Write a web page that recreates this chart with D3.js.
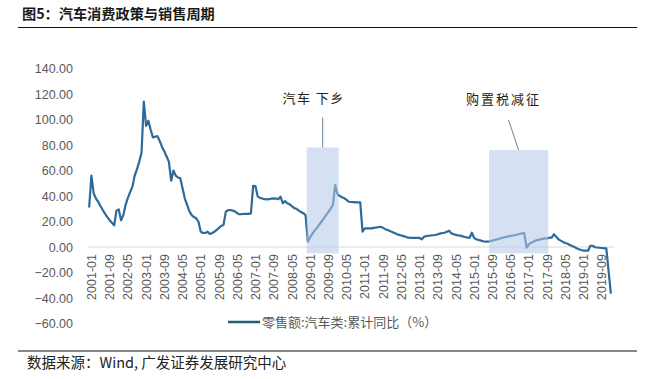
<!DOCTYPE html>
<html><head><meta charset="utf-8">
<script src="https://cdn.jsdelivr.net/npm/d3@7"></script>
<style>
html,body{margin:0;padding:0;background:#fff;}
svg{display:block;}
</style></head>
<body>
<svg id="chart" width="645" height="379"></svg>
<script>
// ---------- data ----------
const title = "图5：汽车消费政策与销售周期";
const seriesName = "零售额:汽车类:累计同比（%）";
const source = "数据来源：Wind, 广发证券发展研究中心";
const yTicks = [-60, -40, -20, 0, 20, 40, 60, 80, 100, 120, 140];
const tickLabels = ["2001-01","2001-09","2002-05","2003-01","2003-09","2004-05","2005-01","2005-09","2006-05","2007-01","2007-09","2008-05","2009-01","2009-09","2010-05","2011-01","2011-09","2012-05","2013-01","2013-09","2014-05","2015-01","2015-09","2016-05","2017-01","2017-09","2018-05","2019-01","2019-09"];
// monthly cumulative YoY values, 2001-01 .. 2019-12
const values2001 = [31,56,42,38,35.5,32,29,26,23.5,21,19,17];
const values2002 = [28.5,29.5,21,25,33,38.5,43,47.3,56,61,67,74];
const values2003 = [114,95,99,92,86,86.5,87,83,78.5,75,71,67];
const values2004 = [52,60,56,54.5,54,46,38,33,28,25,23.5,22.5];
const values2005 = [19.8,12,11,11,12,10.2,11,12,13.5,15,16.5,17.5];
const values2006 = [27.7,29,29,28.5,28,26.5,25.6,25.9,26,26,26,26.4];
const values2007 = [48,47.8,39.5,38.5,38,37.5,37.4,37.5,38,38.2,38,37.5];
const values2008 = [39.5,34.3,36,34.3,33.5,32,30.5,30,28.5,27.5,26.5,25];
const values2009 = [4.2,7.5,10.5,13,15,17.5,20,22.5,25,27.5,30,33];
const values2010 = [48.6,41.3,40,39,38.2,37,35.5,35.3,35.2,35,35,35];
const values2011 = [12,14.6,14.6,14.6,14.6,15,15.3,15.6,15.9,15,14,13.3];
const values2012 = [12.5,11.8,11,10.2,9.5,9,8.5,8,7.3,7.2,7.2,7.2];
const values2013 = [7.1,7.1,6,8,8.6,8.8,9,9.2,9.4,10,10.5,11];
const values2014 = [11.2,12,12.8,10.7,10,9.5,9,8.9,8.3,7.8,7.3,7.3];
const values2015 = [11.2,7,6,5.5,5,4.5,4.2,4.2,4.5,5,5.5,6];
const values2016 = [6.5,7,7.6,8,8.3,8.7,9,9.4,9.8,10.2,10.7,10.9];
const values2017 = [-0.5,2,3.4,4.2,5,5.6,6,6.4,6.8,6.8,7.3,7.3];
const values2018 = [10,8,6,5,4,3.2,2.5,1.6,0.8,0,-1,-1.8];
const values2019 = [-2.4,-2.9,-2.9,-2.9,1,1,-0.2,-0.4,-0.6,-0.8,-1,-1];
const values2020 = [{month:"2020-02", value:-36.5}];
// policy periods (shaded) and their labels
const policyNames = ["汽车下乡", "购置税减征"];
const policyStart = ["2009-01", "2015-09"];
const policyEnd = ["2010-02", "2017-10"];
const policyTop = [78, 76];
const policyBottom = [-5, -5];

// ---------- build ----------
const yearly = [values2001,values2002,values2003,values2004,values2005,values2006,values2007,values2008,values2009,values2010,values2011,values2012,values2013,values2014,values2015,values2016,values2017,values2018,values2019];
const data = [];
yearly.forEach((arr, i) => arr.forEach((v, j) => data.push({month: `${2001+i}-${String(j+1).padStart(2,"0")}`, value: v})));
values2020.forEach(d => data.push(d));
const months = [];
for (let y = 2001; y <= 2020; y++) for (let m = 1; m <= 12; m++) {
  if (y === 2020 && m > 2) break;
  months.push(`${y}-${String(m).padStart(2,"0")}`);
}

const svg = d3.select("#chart");
const left = 88, right = 612;
const x = d3.scalePoint().domain(months).range([left, right]).padding(0.5);
const y = d3.scaleLinear().domain([-60, 140]).range([323.5, 68.5]);

const grey = "#595959";
const latin = "'Liberation Sans', Arial, sans-serif";
const cjk = "'Noto Sans CJK SC', sans-serif";

// title
svg.append("text").attr("x", 22).attr("y", 19).text(title)
  .attr("font-family", cjk).attr("font-weight", "bold").attr("font-size", 14.2).attr("fill", "#1a1a1a");
svg.append("line").attr("x1", 18).attr("x2", 637).attr("y1", 27.5).attr("y2", 27.5)
  .attr("stroke", "#111").attr("stroke-width", 1.2);

// zero gridline
svg.append("line").attr("x1", left).attr("x2", right + 2).attr("y1", y(0)).attr("y2", y(0))
  .attr("stroke", "#d9d9d9").attr("stroke-width", 1);

// y axis labels
const yAxis = d3.axisLeft(y).tickValues(yTicks).tickSize(0).tickFormat(d3.format(".2f"));
const gy = svg.append("g").attr("transform", "translate(73,0)").call(yAxis);
gy.select(".domain").remove();
gy.selectAll("text").attr("x", 0).attr("fill", grey).attr("font-family", latin).attr("font-size", 12.5);

// x axis labels
const xAxis = d3.axisBottom(x).tickValues(tickLabels).tickSize(0);
const gx = svg.append("g").attr("transform", `translate(0,${y(0)})`).call(xAxis);
gx.select(".domain").remove();
gx.selectAll("text").attr("y", 0).attr("dy", "0.35em").attr("text-anchor", "end")
  .attr("transform", "translate(2,7) rotate(-90)")
  .attr("fill", grey).attr("font-family", latin).attr("font-size", 12.5);

// line
const line = d3.line().x(d => x(d.month)).y(d => y(d.value));
svg.append("path").datum(data).attr("d", line).attr("fill", "none")
  .attr("stroke", "#2d6a99").attr("stroke-width", 2.2).attr("stroke-linejoin", "round");

// policy bands (drawn over the line, translucent)
policyNames.forEach((name, i) => {
  const x0 = x(policyStart[i]) - x.step() / 2;
  const x1 = x(policyEnd[i]) + x.step() / 2;
  const yt = y(policyTop[i]);
  svg.append("rect").attr("x", x0).attr("y", yt).attr("width", x1 - x0).attr("height", y(policyBottom[i]) - yt)
    .attr("fill", "rgb(180,199,231)").attr("fill-opacity", 0.56);
  const cx = (x0 + x1) / 2;
  const tx = i === 0 ? cx - 9 : cx - 15;
  const ty = yt - (i === 0 ? 45 : 46);
  svg.append("line").attr("x1", i === 0 ? cx : cx - 10).attr("y1", yt - 30).attr("x2", cx).attr("y2", yt)
    .attr("stroke", "#6f8296").attr("stroke-width", 1);
  svg.append("text").attr("x", tx).attr("y", ty).attr("text-anchor", "middle")
    .attr("font-family", cjk).attr("font-size", 13).attr("fill", "#222")
    .attr("letter-spacing", i === 0 ? 1.5 : 2)
    .text(i === 0 ? "汽车 下乡" : name);
});

// legend
svg.append("line").attr("x1", 228).attr("x2", 260).attr("y1", 322).attr("y2", 322)
  .attr("stroke", "#1f5f78").attr("stroke-width", 2.5);
svg.append("text").attr("x", 262).attr("y", 326.5).text(seriesName)
  .attr("font-family", cjk).attr("font-size", 13).attr("fill", grey);

// source
svg.append("line").attr("x1", 18).attr("x2", 637).attr("y1", 351).attr("y2", 351)
  .attr("stroke", "#111").attr("stroke-width", 1);
svg.append("text").attr("x", 27).attr("y", 368).text(source)
  .attr("font-family", cjk).attr("font-size", 14.5).attr("fill", "#222");
</script>
</body></html>
